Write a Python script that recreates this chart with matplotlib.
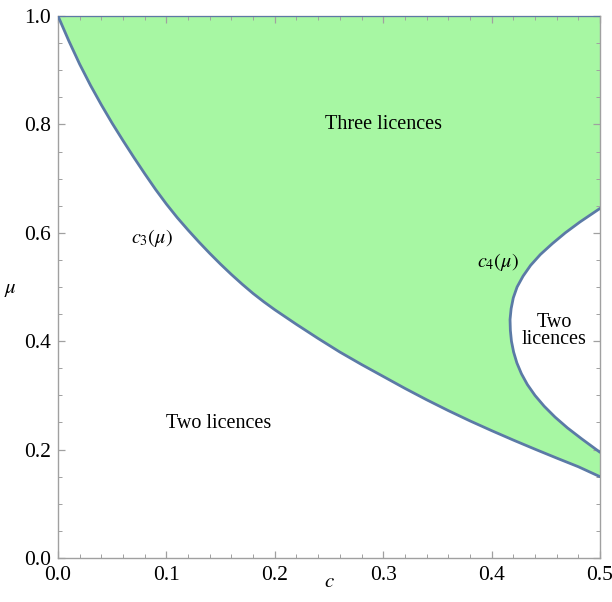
import numpy as np
import matplotlib
matplotlib.use('Agg')
import matplotlib.pyplot as plt
from matplotlib.ticker import MultipleLocator, FormatStrFormatter

plt.rcParams['font.family'] = ['Liberation Serif', 'DejaVu Serif']
plt.rcParams['mathtext.fontset'] = 'stix'

# c3(mu) boundary (c, mu)
c3_c = [0.00, 0.01, 0.02, 0.03, 0.04, 0.05, 0.06, 0.07, 0.08, 0.09, 0.10,
        0.11, 0.12, 0.13, 0.14, 0.15, 0.16, 0.17, 0.18, 0.19, 0.20,
        0.22, 0.24, 0.26, 0.28, 0.30, 0.32, 0.34, 0.36, 0.38, 0.40,
        0.42, 0.44, 0.46, 0.48, 0.50]
c3_mu = [1.000, 0.954, 0.911, 0.872, 0.836, 0.802, 0.770, 0.739, 0.709, 0.680, 0.653,
         0.628, 0.605, 0.583, 0.562, 0.542, 0.523, 0.505, 0.488, 0.4725, 0.458,
         0.431, 0.405, 0.380, 0.357, 0.335, 0.313, 0.292, 0.272, 0.253, 0.235,
         0.2176, 0.2008, 0.1844, 0.1684, 0.150]

# c4(mu) boundary, from bottom end to top end
c4_mu = [0.195, 0.22, 0.24, 0.26, 0.28, 0.30, 0.32, 0.34, 0.36, 0.38, 0.40, 0.42,
         0.44, 0.46, 0.48, 0.50, 0.52, 0.54, 0.56, 0.58, 0.60, 0.62, 0.645]
c4_c = [0.500, 0.483, 0.470, 0.4585, 0.4485, 0.440, 0.433, 0.4275, 0.4233, 0.4203,
        0.4183, 0.4173, 0.417, 0.418, 0.420, 0.4235, 0.429, 0.436, 0.445, 0.456,
        0.468, 0.4815, 0.500]

fig = plt.figure(figsize=(6.12, 6.02), dpi=100)
ax = fig.add_axes([0.0948, 0.0731, 0.8856, 0.9003])

green = '#a7f7a3'
edge = '#5b7aa6'

# green region: above c3, outside c4
poly_c = c3_c + c4_c + [0.5, 0.0]
poly_mu = c3_mu + c4_mu + [1.0, 1.0]
ax.fill(poly_c, poly_mu, color=green, lw=0, zorder=1)

ax.plot(c3_c, c3_mu, color=edge, lw=2, zorder=3, solid_capstyle='round')
ax.plot(c4_c, c4_mu, color=edge, lw=2, zorder=3, solid_capstyle='round')
ax.plot([0.0, 0.5], [1.0, 1.0], color=edge, lw=1.5, zorder=3)

ax.set_xlim(0, 0.5)
ax.set_ylim(0, 1.0)
ax.xaxis.set_major_locator(MultipleLocator(0.1))
ax.xaxis.set_minor_locator(MultipleLocator(0.02))
ax.yaxis.set_major_locator(MultipleLocator(0.2))
ax.yaxis.set_minor_locator(MultipleLocator(0.05))
ax.xaxis.set_major_formatter(FormatStrFormatter('%.1f'))
ax.yaxis.set_major_formatter(FormatStrFormatter('%.1f'))

for s in ax.spines.values():
    s.set_color('#a0a0a0')
    s.set_linewidth(1.0)
ax.tick_params(which='both', direction='in', top=True, right=True,
               color='#a0a0a0', labelsize=15.5, labelcolor='black')
ax.tick_params(which='major', length=5, width=0.9)
ax.tick_params(which='minor', length=3, width=0.7)
ax.tick_params(axis='x', which='major', pad=6)
ax.tick_params(axis='y', which='major', pad=5)

ax.set_xlabel(r'$c$', fontsize=15, va='center', ha='center')
ax.set_ylabel(r'$\mu$', fontsize=15, rotation=0, va='center', ha='center')
ax.xaxis.set_label_coords(0.5, -0.046)
ax.yaxis.set_label_coords(-0.087, 0.495)

ax.text(0.3, 0.80, 'Three licences', fontsize=14.5, ha='center', va='center', zorder=4)
ax.text(0.148, 0.249, 'Two licences', fontsize=14.5, ha='center', va='center', zorder=4)
ax.text(0.458, 0.419, 'Two\nlicences', fontsize=14.5, ha='center', va='center',
        linespacing=0.85, zorder=4)
ax.text(0.087, 0.59, r'$c_3(\mu)$', fontsize=14.5, ha='center', va='center', zorder=4)
ax.text(0.406, 0.546, r'$c_4(\mu)$', fontsize=14.5, ha='center', va='center', zorder=4)

fig.savefig('out.png', dpi=100)
